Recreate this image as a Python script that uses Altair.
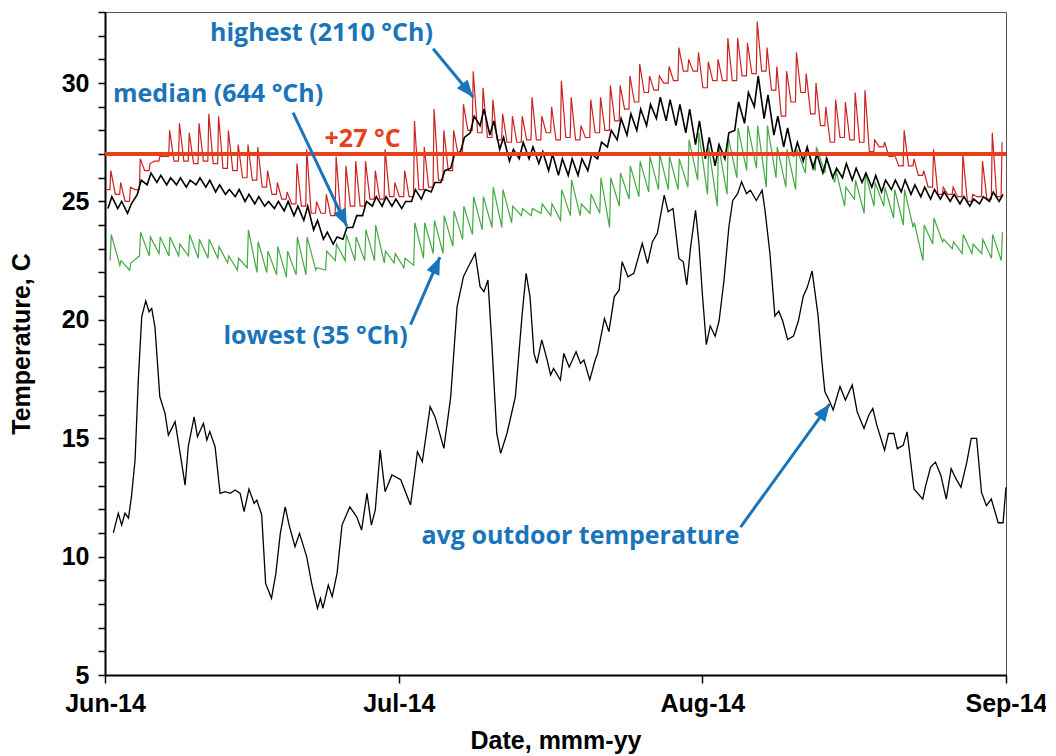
import math
import altair as alt
import pandas as pd

# ---------------- data ----------------
days = list(range(92))  # day 0 = 1 Jun 2014

highest_low = [25.5, 25.3, 25.0, 25.5, 26.3, 26.7, 26.9, 26.7, 26.7, 26.6,
               26.7, 26.6, 26.4, 26.3, 26.0, 25.9, 25.6, 25.3, 25.1, 24.9,
               24.8, 24.5, 24.5, 24.4, 24.5, 24.8, 24.8, 25.1, 25.1, 25.2,
               25.2, 25.2, 25.5, 25.6, 25.9, 26.3, 27.0, 28.0, 27.9, 27.7,
               27.6, 27.5, 27.5, 27.6, 27.6, 27.9, 27.6, 27.7, 27.6, 27.7,
               27.9, 28.0, 28.4, 28.9, 29.2, 29.6, 29.7, 30.0, 30.1, 30.5,
               30.5, 29.8, 30.1, 30.1, 30.1, 30.3, 30.4, 30.5, 29.7, 28.6,
               29.2, 29.6, 28.7, 28.2, 27.5, 27.7, 27.6, 27.5, 27.1, 27.3,
               26.9, 26.5, 26.5, 26.1, 25.6, 25.3, 25.3, 25.2, 25.0, 25.2,
               25.1, 25.2]
highest_peak = [26.3, 25.8, 25.6, 26.8, 26.6, 26.9, 28.0, 28.3, 27.9, 28.3,
                28.7, 28.6, 28.0, 27.4, 27.4, 27.3, 26.3, 25.8, 25.4, 26.6,
                27.2, 25.0, 25.3, 26.9, 26.5, 26.7, 26.7, 26.3, 27.2, 25.8,
                26.3, 28.4, 27.3, 28.9, 28.0, 28.0, 29.1, 30.5, 29.8, 29.3,
                28.7, 28.6, 28.6, 29.4, 28.6, 29.0, 30.1, 29.4, 28.2, 29.3,
                29.4, 29.9, 29.9, 30.3, 30.8, 30.3, 30.3, 30.7, 31.5, 31.0,
                31.3, 30.9, 31.0, 31.9, 31.9, 31.7, 32.6, 31.5, 30.7, 30.5,
                31.3, 30.4, 30.0, 29.0, 29.3, 29.2, 29.6, 29.7, 27.6, 27.5,
                27.0, 28.0, 26.8, 26.3, 27.2, 25.6, 25.6, 27.0, 25.3, 26.7,
                27.9, 27.5]

median_low = [24.7, 24.7, 24.5, 25.3, 25.7, 25.8, 25.7, 25.7, 25.6, 25.7,
              25.6, 25.4, 25.3, 25.2, 25.0, 24.9, 24.8, 24.7, 24.6, 24.4,
              24.2, 23.8, 23.4, 23.2, 23.4, 23.9, 24.4, 24.8, 24.8, 24.8,
              24.7, 25.0, 25.1, 25.4, 25.8, 26.4, 27.1, 27.9, 28.2, 27.8,
              27.2, 26.7, 26.8, 26.8, 26.6, 26.3, 26.1, 26.1, 26.1, 26.3,
              26.8, 27.3, 27.6, 27.8, 28.0, 28.2, 28.5, 28.4, 28.2, 27.9,
              27.4, 26.8, 26.5, 26.8, 28.0, 28.3, 29.0, 28.5, 27.8, 27.3,
              26.9, 26.7, 26.4, 26.2, 26.0, 26.0, 25.9, 25.8, 25.6, 25.4,
              25.5, 25.4, 25.3, 25.2, 25.1, 25.1, 25.0, 24.9, 24.8, 24.9,
              25.0, 25.0]
median_peak = [25.2, 25.0, 24.9, 25.9, 26.2, 26.1, 26.0, 26.0, 25.9, 26.0,
               25.9, 25.7, 25.5, 25.5, 25.3, 25.2, 25.0, 25.0, 25.0, 24.8,
               24.8, 24.2, 23.7, 23.5, 23.9, 24.4, 25.0, 25.2, 25.2, 25.1,
               25.0, 25.5, 25.5, 25.8, 26.3, 27.0, 27.7, 28.6, 28.9, 28.4,
               27.7, 27.2, 27.5, 27.3, 27.1, 27.0, 26.8, 26.8, 26.8, 27.0,
               27.5, 28.0, 28.5, 28.7, 28.9, 29.1, 29.4, 29.3, 29.1, 28.9,
               28.4, 27.7, 27.4, 27.9, 29.2, 29.6, 30.3, 29.5, 28.6, 28.1,
               27.5, 27.3, 27.0, 26.8, 26.4, 26.6, 26.4, 26.2, 26.1, 25.9,
               25.9, 25.9, 25.7, 25.6, 25.5, 25.4, 25.3, 25.2, 25.1, 25.2,
               25.4, 25.3]

lowest_low = [22.5, 22.3, 22.1, 22.7, 22.7, 22.8, 22.7, 22.7, 22.7, 22.6,
              22.6, 22.6, 22.4, 22.1, 22.2, 22.0, 22.0, 21.9, 21.8, 21.9,
              21.9, 22.1, 22.1, 22.5, 22.5, 22.5, 22.5, 22.5, 22.4, 22.4,
              22.2, 22.3, 22.6, 22.8, 22.8, 23.1, 23.4, 23.6, 23.8, 23.9,
              23.9, 24.1, 24.4, 24.4, 24.5, 24.4, 24.2, 24.4, 24.4, 24.5,
              24.5, 23.9, 24.8, 25.1, 25.2, 25.4, 25.5, 25.5, 25.5, 25.6,
              25.9, 25.3, 24.8, 25.3, 26.0, 26.3, 26.4, 25.6, 26.0, 25.6,
              25.5, 26.2, 26.3, 26.2, 25.8, 24.8, 25.1, 24.5, 24.8, 24.8,
              24.3, 24.0, 23.9, 22.5, 23.2, 23.3, 23.0, 22.8, 22.8, 22.8,
              22.6, 22.5]
lowest_peak = [23.6, 22.5, 22.4, 23.7, 23.5, 23.5, 23.5, 23.2, 23.6, 23.4,
               23.4, 23.1, 22.7, 22.6, 23.8, 23.3, 22.9, 23.1, 22.9, 23.5,
               23.5, 22.2, 22.9, 23.2, 23.6, 23.5, 23.8, 24.0, 22.9, 22.8,
               22.6, 24.1, 24.1, 24.2, 24.4, 24.6, 24.8, 25.2, 25.2, 25.6,
               25.5, 24.8, 24.7, 24.7, 24.9, 24.9, 25.5, 25.9, 24.9, 25.3,
               26.0, 26.0, 26.2, 26.5, 26.7, 26.9, 27.0, 26.9, 26.8, 27.6,
               27.9, 27.3, 27.4, 27.7, 28.1, 28.2, 28.2, 28.2, 27.3, 27.2,
               27.2, 27.3, 27.3, 26.9, 26.3, 25.6, 25.9, 26.2, 25.8, 25.6,
               25.5, 25.5, 24.1, 24.0, 24.3, 23.4, 23.3, 23.6, 23.2, 23.4,
               23.6, 23.7]

outdoor_day = [0.85, 1.36, 1.7, 2.04, 2.4, 2.7, 3.07, 3.4, 3.75, 4.16, 4.5, 4.77,
               5.1, 5.6, 6.13, 6.47, 7.16, 7.67, 8.18, 8.5, 9.1, 9.44, 10.05, 10.4,
               10.7, 11.24, 11.75, 12.27, 12.78, 13.29, 13.8, 14.2, 14.7, 15.23, 15.5,
               16.0, 16.4, 17.0, 17.45, 17.9, 18.4, 18.8, 19.4, 19.86, 20.6, 21.1,
               21.7, 22.0, 22.25, 22.8, 23.2, 23.7, 24.2, 25.0, 25.7, 26.2, 26.75,
               27.2, 27.6, 28.1, 28.6, 29.3, 30.2, 31.2, 31.9, 32.4, 33.2, 33.7,
               34.6, 35.3, 35.95, 36.6, 37.1, 37.8, 38.3, 38.7, 39.1, 39.5, 40.0,
               40.4, 41.05, 41.9, 42.6, 43.0, 43.4, 43.8, 44.1, 44.6, 45.15, 45.5,
               45.8, 46.5, 46.85, 47.4, 48.1, 48.55, 48.9, 49.5, 50.0, 50.3, 51.0,
               51.45, 52.0, 52.5, 52.8, 53.4, 54.0, 54.86, 55.4, 55.9, 56.4, 57.1,
               57.5, 58.0, 58.6, 59.05, 59.4, 59.8, 60.3, 60.65, 61.0, 61.4, 61.8,
               62.3, 62.7, 63.2, 63.7, 64.1, 64.6, 65.0, 65.5, 65.9, 66.5, 67.1,
               67.4, 67.9, 68.4, 68.8, 69.2, 69.7, 70.3, 70.8, 71.3, 71.7, 72.2,
               72.8, 73.2, 73.5, 74.0, 74.35, 75.05, 75.6, 76.3, 76.8, 77.5, 78.0,
               78.4, 78.8, 79.6, 80.0, 80.55, 80.9, 81.5, 81.9, 82.6, 83.5, 83.8,
               84.3, 84.8, 85.35, 85.9, 86.4, 86.9, 87.4, 88.0, 88.45, 89.0, 89.5,
               90.0, 90.5, 91.2, 91.7, 92.0]
outdoor_temp = [11.0, 11.83, 11.33, 11.83, 11.63, 12.53, 14.08, 17.46, 20.13, 20.8, 20.34, 20.48,
                19.7, 16.75, 16.05, 15.13, 15.7, 14.36, 13.02, 14.64, 15.9, 15.06, 15.63, 14.92,
                15.28, 14.64, 12.67, 12.74, 12.67, 12.81, 12.67, 11.9, 12.85, 12.25, 12.39,
                11.76, 8.87, 8.24, 9.3, 10.98, 12.1, 11.33, 10.42, 10.98, 9.99, 8.87,
                7.81, 8.24, 7.81, 8.8, 8.31, 9.3, 11.33, 12.1, 11.68, 11.12, 12.67,
                11.33, 11.97, 14.5, 12.74, 13.45, 13.25, 12.18, 14.43, 14.0, 16.33, 15.9,
                14.57, 16.75, 20.55, 21.82, 22.24, 22.8, 21.4, 21.19, 21.68, 19.0, 15.21,
                14.36, 15.21, 16.75, 20.26, 21.96, 20.97, 18.58, 18.16, 19.15, 18.3, 17.67,
                17.95, 17.46, 18.58, 18.0, 18.65, 18.16, 18.3, 17.46, 18.23, 18.58, 20.05,
                19.5, 20.97, 21.26, 22.45, 21.82, 21.96, 23.23, 22.38, 23.3, 23.65, 25.27,
                24.57, 24.7, 22.59, 22.45, 21.47, 23.08, 24.62, 23.2, 21.08, 18.95, 19.74,
                19.31, 19.95, 21.65, 23.91, 25.04, 25.33, 25.83, 25.33, 25.47, 25.04, 25.47,
                24.6, 22.78, 20.16, 20.37, 19.95, 19.17, 19.31, 19.95, 21.0, 21.36, 22.07,
                20.22, 18.24, 16.97, 16.55, 16.19, 17.18, 16.61, 17.25, 16.12, 15.41, 15.98,
                16.26, 15.56, 14.49, 15.2, 15.2, 14.56, 14.7, 15.27, 12.86, 12.43, 13.0,
                13.78, 13.99, 13.43, 12.43, 13.71, 13.28, 12.93, 13.99, 14.99, 14.99, 12.71,
                12.15, 12.43, 11.43, 11.43, 12.93]

threshold = 27

ann_text = ["highest (2110 °Ch)", "median (644 °Ch)", "lowest (35 °Ch)", "avg outdoor temperature"]
ann_day = [22.1, 11.55, 21.5, 48.55]
ann_temp = [32.1, 29.55, 19.3, 10.85]

arrow_day = [33.5, 19.2, 31.2, 64.9]
arrow_temp = [31.45, 28.75, 19.8, 11.25]
arrow_day2 = [37.6, 24.7, 34.2, 74.0]
arrow_temp2 = [29.4, 23.95, 22.65, 16.45]

# ---------------- layout / style ----------------
W, H = 901, 663
X_DOM = [0, 92]
Y_DOM = [5, 33]
BLUE = "#1a74ba"
ORANGE = "#e8401c"
LABEL_FONT = "Liberation Sans"
ANN_FONT = "Open Sans"


def daily_rows(low, high, t_hold, t_rise, t_peak):
    rows = []
    for d, a, b in zip(days, low, high):
        if t_hold is not None:
            rows.append({"day": d + t_hold, "temp": a})
        rows.append({"day": d + t_rise, "temp": a})
        rows.append({"day": d + t_peak, "temp": b})
    return pd.DataFrame(rows)


# highest: flat night level with a sharp afternoon spike
red_df = daily_rows(highest_low, highest_peak, 0.05, 0.5, 0.6)
# lowest: saw-tooth (sharp rise, slow decay)
green_df = daily_rows(lowest_low, lowest_peak, None, 0.52, 0.64)
# median: gentle daily swing
black_df = daily_rows(median_low, median_peak, None, 0.3, 0.7)
outdoor = pd.DataFrame({"day": outdoor_day, "temp": outdoor_temp})

ppd = W / (X_DOM[1] - X_DOM[0])
ppt = H / (Y_DOM[1] - Y_DOM[0])
angles = []
for x1, y1, x2, y2 in zip(arrow_day, arrow_temp, arrow_day2, arrow_temp2):
    vx = (x2 - x1) * ppd
    vy = -(y2 - y1) * ppt
    angles.append(math.degrees(math.atan2(vx, -vy)) % 360)
arrows = pd.DataFrame({"day": arrow_day, "temp": arrow_temp,
                       "day2": arrow_day2, "temp2": arrow_temp2, "angle": angles})
labels = pd.DataFrame({"day": ann_day, "temp": ann_temp, "label": ann_text})

x_axis = alt.Axis(values=[0, 30, 61, 92],
                  labelExpr="datum.value==0?'Jun-14':datum.value==30?'Jul-14':datum.value==61?'Aug-14':'Sep-14'",
                  title="Date, mmm-yy", grid=False, domainColor="black", domainWidth=2,
                  tickColor="black", tickWidth=1.5, tickSize=8, labelFont=LABEL_FONT,
                  labelFontSize=25, labelFontWeight="bold", labelColor="black", labelPadding=8,
                  labelFlush=False, labelOverlap=False, titleFont=LABEL_FONT, titleFontSize=25,
                  titleFontWeight="bold", titleColor="black", titlePadding=12)
y_axis = alt.Axis(values=list(range(5, 34)),
                  labelExpr="datum.value % 5 == 0 ? datum.value : ''",
                  title="Temperature, C", grid=False, domainColor="black", domainWidth=2,
                  tickColor="black", tickWidth=1.5, tickSize=7, labelFont=LABEL_FONT,
                  labelFontSize=25, labelFontWeight="bold", labelColor="black", labelPadding=9,
                  labelFlush=False, labelOverlap=False, titleFont=LABEL_FONT, titleFontSize=25,
                  titleFontWeight="bold", titleColor="black", titlePadding=27)


def X(field="day"):
    return alt.X(f"{field}:Q", scale=alt.Scale(domain=X_DOM, nice=False, zero=False), axis=x_axis)


def Y(field="temp"):
    return alt.Y(f"{field}:Q", scale=alt.Scale(domain=Y_DOM, nice=False, zero=False), axis=y_axis)


red = alt.Chart(red_df).mark_line(color="#cc2222", strokeWidth=1.2).encode(x=X(), y=Y())
green = alt.Chart(green_df).mark_line(color="#43a943", strokeWidth=1.2).encode(x=X(), y=Y())
black = alt.Chart(black_df).mark_line(color="black", strokeWidth=1.6).encode(x=X(), y=Y())
out_line = alt.Chart(outdoor).mark_line(color="black", strokeWidth=1.3).encode(x=X(), y=Y())

rule27 = alt.Chart(pd.DataFrame({"temp": [threshold]})).mark_rule(
    color=ORANGE, strokeWidth=4).encode(y=Y())
txt27 = alt.Chart(pd.DataFrame({"day": [26.3], "temp": [27.65], "label": ["+27 °C"]})).mark_text(
    color=ORANGE, font=ANN_FONT, fontWeight="bold", fontSize=25, align="center", baseline="middle"
).encode(x=X(), y=Y(), text="label:N")

shafts = alt.Chart(arrows).mark_rule(color=BLUE, strokeWidth=3).encode(
    x=X(), y=Y(), x2="day2:Q", y2="temp2:Q")
heads = alt.Chart(arrows).mark_point(
    shape="M0,0 L-0.4,1 L0.4,1 Z", filled=True, color=BLUE, opacity=1, size=1200, strokeWidth=0
).encode(x=X("day2"), y=Y("temp2"), angle=alt.Angle("angle:Q", scale=None))
ann = alt.Chart(labels).mark_text(
    color=BLUE, font=ANN_FONT, fontWeight="bold", fontSize=25, align="center", baseline="middle"
).encode(x=X(), y=Y(), text="label:N")

chart = alt.layer(red, green, black, out_line, rule27, txt27, shafts, heads, ann).properties(
    width=W, height=H,
    autosize=alt.AutoSizeParams(type="none"),
    padding={"left": 97, "top": 4, "right": 40, "bottom": 80},
).configure_view(stroke="#555555", strokeWidth=1)

chart.save("out.html", embed_options={"renderer": "svg", "actions": False})
